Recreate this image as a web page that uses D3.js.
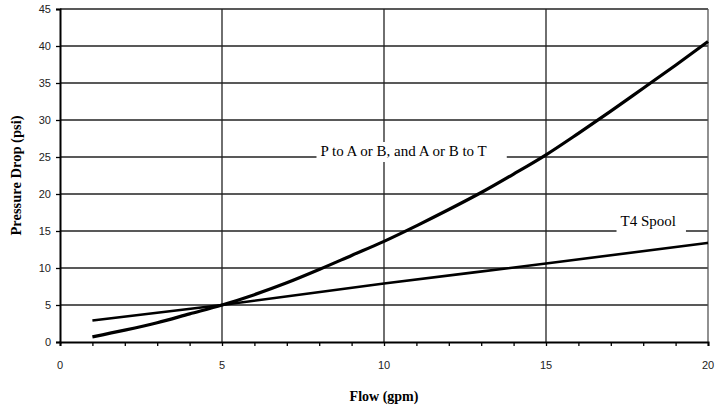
<!DOCTYPE html>
<html>
<head>
<meta charset="utf-8">
<script src="https://cdn.jsdelivr.net/npm/d3@7"></script>
<style>
  body { margin: 0; background: #fff; }
  svg { display: block; }
  .tick text { font-family: Arial, "Liberation Sans", sans-serif; font-size: 11px; fill: #222; }
</style>
</head>
<body>
<div id="chart"></div>
<script>
// chart size
var svgWidth = 715;
var svgHeight = 409;

var margin = { top: 9, right: 7, bottom: 67, left: 60 };

var width = svgWidth - margin.left - margin.right;
var height = svgHeight - margin.top - margin.bottom;

// data
var flow = [1, 2, 3, 4, 5, 6, 7, 8, 9, 10, 11, 12, 13, 14, 15, 16, 17, 18, 19, 20];
var dropMain = [0.7, 1.6, 2.6, 3.8, 5.0, 6.4, 8.0, 9.8, 11.7, 13.6, 15.7, 17.9, 20.2, 22.7, 25.3, 28.2, 31.2, 34.3, 37.4, 40.6];

var flowT4 = [1, 5, 10, 15, 20];
var dropT4 = [2.9, 5.0, 7.9, 10.6, 13.4];

var xTicks = [0, 5, 10, 15, 20];
var xMinorTicks = d3.range(0, 21);
var yTicks = [0, 5, 10, 15, 20, 25, 30, 35, 40, 45];

var svg = d3.select("#chart")
  .append("svg")
  .attr("width", svgWidth)
  .attr("height", svgHeight);

var chartGroup = svg.append("g")
  .attr("transform", `translate(${margin.left}, ${margin.top})`);

var xScale = d3.scaleLinear().domain([0, 20]).range([0, width]);
var yScale = d3.scaleLinear().domain([0, 45]).range([height, 0]);

// horizontal gridlines
chartGroup.append("g")
  .selectAll("line")
  .data(yTicks.slice(1))
  .enter()
  .append("line")
  .attr("x1", 0)
  .attr("x2", width)
  .attr("y1", d => yScale(d))
  .attr("y2", d => yScale(d))
  .attr("stroke", "#222")
  .attr("stroke-width", 1.3);

// vertical gridlines
chartGroup.append("g")
  .selectAll("line")
  .data(xTicks.slice(1, 4))
  .enter()
  .append("line")
  .attr("x1", d => xScale(d))
  .attr("x2", d => xScale(d))
  .attr("y1", 0)
  .attr("y2", height)
  .attr("stroke", "#222")
  .attr("stroke-width", 1.3);

// right border
chartGroup.append("line")
  .attr("x1", width).attr("x2", width)
  .attr("y1", 0).attr("y2", height)
  .attr("stroke", "#555")
  .attr("stroke-width", 1.3);

// annotation labels with white background (cover the grid)
var labels = [
  { text: "P to A or B, and A or B to T", x: 8.04, y: 25, padL: 4, padR: 20, dy: -1 },
  { text: "T4 Spool", x: 17.3, y: 15, padL: 4, padR: 10, dy: -5 }
];

labels.forEach(function(l) {
  var g = chartGroup.append("g");
  var rect = g.append("rect").attr("fill", "#fff");
  var t = g.append("text")
    .attr("x", xScale(l.x))
    .attr("y", yScale(l.y) + l.dy)
    .attr("font-family", "'Liberation Serif', 'Times New Roman', serif")
    .attr("font-size", "15px")
    .attr("fill", "#000")
    .text(l.text);
  var bb = t.node().getBBox();
  rect.attr("x", bb.x - l.padL)
    .attr("y", bb.y - 1)
    .attr("width", bb.width + l.padL + l.padR)
    .attr("height", bb.height + 4);
});

// lines
var lineMain = d3.line()
  .x((d, i) => xScale(flow[i]))
  .y(d => yScale(d))
  .curve(d3.curveMonotoneX);

chartGroup.append("path")
  .datum(dropMain)
  .attr("d", lineMain)
  .attr("fill", "none")
  .attr("stroke", "#000")
  .attr("stroke-width", 3.2)
  .attr("stroke-linejoin", "round");

var lineT4 = d3.line()
  .x((d, i) => xScale(flowT4[i]))
  .y(d => yScale(d))
  .curve(d3.curveMonotoneX);

chartGroup.append("path")
  .datum(dropT4)
  .attr("d", lineT4)
  .attr("fill", "none")
  .attr("stroke", "#000")
  .attr("stroke-width", 2.6);

// x axis: minor ticks every unit, labels every 5
var xAxis = chartGroup.append("g")
  .attr("transform", `translate(0, ${height})`)
  .call(d3.axisBottom(xScale).tickValues(xMinorTicks).tickSize(4).tickFormat(""));
xAxis.select(".domain").attr("stroke", "#000").attr("stroke-width", 2);
xAxis.selectAll(".tick line").attr("stroke", "#000").attr("stroke-width", 1.3);

chartGroup.append("g")
  .selectAll("text")
  .data(xTicks)
  .enter()
  .append("text")
  .attr("x", d => xScale(d))
  .attr("y", height + 27)
  .attr("text-anchor", "middle")
  .attr("font-family", "Arial, 'Liberation Sans', sans-serif")
  .attr("font-size", "11px")
  .attr("fill", "#222")
  .text(d => d);

// y axis
var yAxis = chartGroup.append("g")
  .call(d3.axisLeft(yScale).tickValues(yTicks).tickSize(4).tickPadding(5));
yAxis.select(".domain").attr("stroke", "#000").attr("stroke-width", 2);
yAxis.selectAll(".tick line").attr("stroke", "#000").attr("stroke-width", 1.3);

// axis titles
svg.append("text")
  .attr("transform", `translate(21, ${margin.top + height / 2}) rotate(-90)`)
  .attr("text-anchor", "middle")
  .attr("font-family", "'Liberation Serif', 'Times New Roman', serif")
  .attr("font-weight", "bold")
  .attr("font-size", "14.5px")
  .text("Pressure Drop (psi)");

svg.append("text")
  .attr("x", margin.left + xScale(10))
  .attr("y", 401)
  .attr("text-anchor", "middle")
  .attr("font-family", "'Liberation Serif', 'Times New Roman', serif")
  .attr("font-weight", "bold")
  .attr("font-size", "14px")
  .text("Flow (gpm)");
</script>
</body>
</html>
